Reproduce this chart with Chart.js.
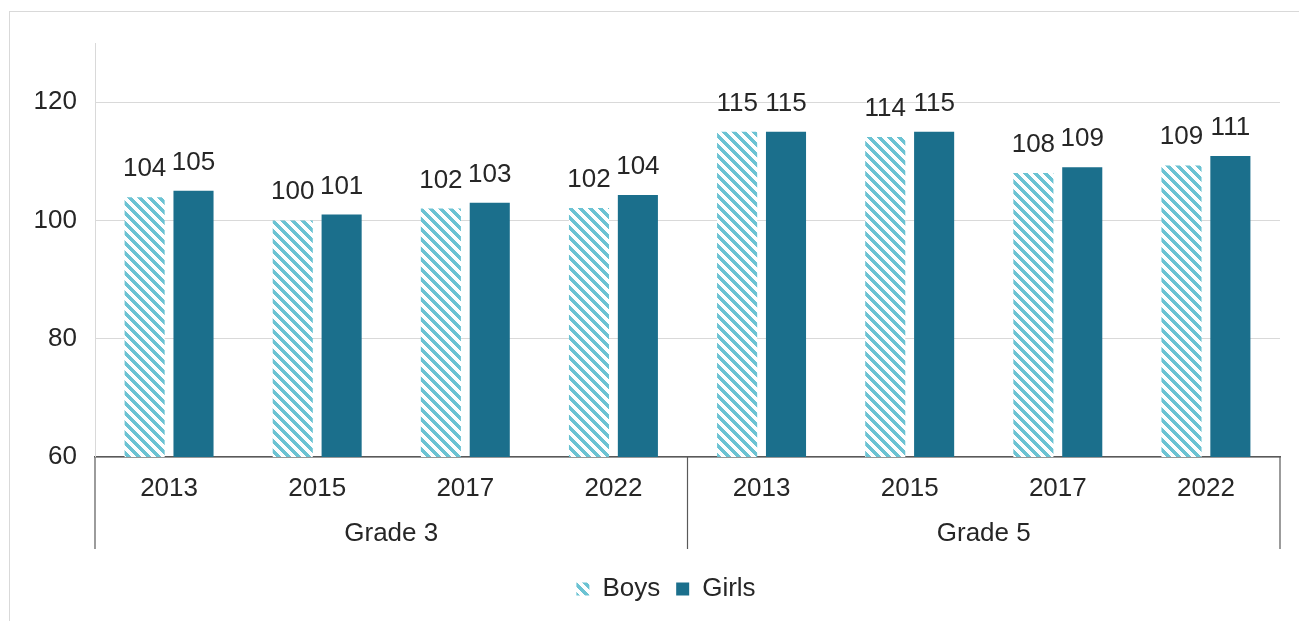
<!DOCTYPE html>
<html>
<head>
<meta charset="utf-8">
<script src="https://cdn.jsdelivr.net/npm/chart.js@4.4.1/dist/chart.umd.min.js"></script>
<style>
  html, body { margin: 0; padding: 0; background: #fff; overflow: hidden; }
  #frame {
    position: absolute; left: 9px; top: 11px; width: 1400px; height: 700px;
    border: 1.5px solid #d9d9d9;
  }
  #chart { position: absolute; left: 0; top: 0; }
</style>
</head>
<body>
<div id="frame"></div>
<canvas id="chart" width="1299" height="621"></canvas>
<script>
// data
const groups = ['Grade 3', 'Grade 5'];
const years = ['2013', '2015', '2017', '2022', '2013', '2015', '2017', '2022'];
const boys = [103.9, 100.0, 102.0, 102.1, 115.0, 114.1, 108.0, 109.3];
const girls = [105.0, 101.0, 103.0, 104.3, 115.0, 115.0, 109.0, 110.9];

const FONT = "'Liberation Sans', Arial, sans-serif";
const TEXT = '#262626';

// pixel hatch like the Excel "wide downward diagonal"
function hatch(color) {
  const c = document.createElement('canvas');
  const n = 10;
  c.width = n; c.height = n;
  const g = c.getContext('2d');
  g.fillStyle = '#fff';
  g.fillRect(0, 0, n, n);
  g.fillStyle = color;
  for (let y = 0; y < n; y++) {
    for (let x = 0; x < n; x++) {
      if (((x - y) % n + n) % n < 5) g.fillRect(x, y, 1, 1);
    }
  }
  return g.createPattern(c, 'repeat');
}

const boysFill = hatch('#6cc3d3');
const girlsFill = '#1b6f8c';

// numbers above each bar
const valueLabels = {
  id: 'valueLabels',
  afterDatasetsDraw(chart) {
    const ctx = chart.ctx;
    ctx.save();
    ctx.font = '26px ' + FONT;
    ctx.fillStyle = TEXT;
    ctx.textAlign = 'center';
    ctx.textBaseline = 'alphabetic';
    chart.data.datasets.forEach((ds, i) => {
      chart.getDatasetMeta(i).data.forEach((bar, j) => {
        ctx.fillText(Math.round(ds.data[j]), bar.x, bar.y - 21);
      });
    });
    ctx.restore();
  }
};

// group separators under the axis
const groupLines = {
  id: 'groupLines',
  afterDraw(chart) {
    const x = chart.scales.x;
    const x2 = chart.scales.x2;
    const ctx = chart.ctx;
    const mid = (x.getPixelForValue(3) + x.getPixelForValue(4)) / 2;
    const y0 = chart.chartArea.bottom;
    const y1 = x2.top + 46;
    ctx.save();
    ctx.strokeStyle = '#595959';
    ctx.lineWidth = 1.2;
    [x.left, mid, x.right].forEach(px => {
      ctx.beginPath();
      ctx.moveTo(px, y0);
      ctx.lineTo(px, y1);
      ctx.stroke();
    });
    ctx.restore();
  }
};

// legend sits a little right of the canvas centre in the original
const legendShift = {
  id: 'legendShift',
  afterLayout(chart) {
    if (chart.legend) {
      chart.legend.left += 21;
      chart.legend.right += 21;
    }
  }
};

new Chart(document.getElementById('chart'), {
  type: 'bar',
  data: {
    labels: years,
    datasets: [
      { label: 'Boys', data: boys, backgroundColor: boysFill, borderWidth: 0 },
      { label: 'Girls', data: girls, backgroundColor: girlsFill, borderWidth: 0 },
    ],
  },
  options: {
    responsive: false,
    animation: false,
    categoryPercentage: 0.66,
    barPercentage: 0.82,
    layout: { padding: { left: 10, right: 19, top: 43, bottom: 9 } },
    plugins: {
      tooltip: { enabled: false },
      legend: {
        position: 'bottom',
        labels: {
          font: { size: 26, family: FONT },
          color: TEXT,
          boxWidth: 13,
          boxHeight: 13,
          padding: 16,
        },
      },
    },
    scales: {
      x: {
        grid: { display: false },
        border: { display: true, color: '#595959', width: 1.5 },
        ticks: { font: { size: 26, family: FONT }, color: TEXT, padding: 8, maxRotation: 0 },
        afterFit(s) { s.height = 46; },
      },
      x2: {
        type: 'category',
        labels: groups,
        position: 'bottom',
        offset: true,
        grid: { display: false },
        border: { display: false },
        ticks: { font: { size: 26, family: FONT }, color: TEXT, padding: 7, maxRotation: 0 },
        afterFit(s) { s.height = 57; },
      },
      y: {
        min: 60,
        max: 130,
        ticks: {
          stepSize: 20,
          includeBounds: false,
          font: { size: 26, family: FONT },
          color: TEXT,
          padding: 18,
        },
        grid: { color: '#d9d9d9', lineWidth: 1, drawTicks: false },
        border: { display: true, color: '#d9d9d9', width: 1 },
        afterFit(s) { s.width = 85; },
      },
    },
  },
  plugins: [valueLabels, groupLines, legendShift],
});
</script>
</body>
</html>
